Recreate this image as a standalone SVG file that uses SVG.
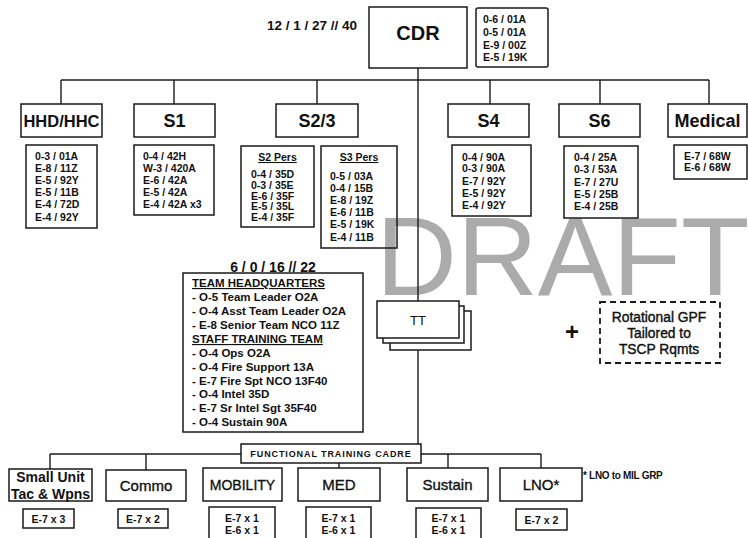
<svg xmlns="http://www.w3.org/2000/svg" width="748" height="538" viewBox="0 0 748 538">
<style>
.bx{fill:#fff;stroke:#1a1a1a;stroke-width:1.5}
.bxn{fill:none;stroke:#1a1a1a;stroke-width:1.5}
.dash{fill:#fff;stroke:#1a1a1a;stroke-width:1.8;stroke-dasharray:6 4}
.ln{stroke:#1a1a1a;stroke-width:1.4;fill:none}
text{font-family:"Liberation Sans",Arial,sans-serif;fill:#111}
.lst{font-size:10.5px;font-weight:bold}
.hd{font-size:18px;font-weight:bold;text-anchor:middle}
.bt{font-size:15px;text-anchor:middle;stroke:#111;stroke-width:0.35}
.gp{font-size:13.8px;text-anchor:middle;stroke:#111;stroke-width:0.4}
.st{font-size:10.5px;font-weight:bold;text-anchor:middle}
.mid{font-size:11.5px;font-weight:bold}
.u{text-decoration:underline}
.wm{font-size:112px;fill:#ababab}
</style>
<g id="watermark"><text class="wm" x="376" y="295">DRAFT</text></g>
<g id="connectors">
<line class="ln" x1="61" y1="80" x2="709" y2="80"/>
<line class="ln" x1="61" y1="80" x2="61" y2="104"/>
<line class="ln" x1="174" y1="80" x2="174" y2="104"/>
<line class="ln" x1="317" y1="80" x2="317" y2="104"/>
<line class="ln" x1="490" y1="80" x2="490" y2="104"/>
<line class="ln" x1="600" y1="80" x2="600" y2="104"/>
<line class="ln" x1="709" y1="80" x2="709" y2="104"/>
<line class="ln" x1="418" y1="68" x2="418" y2="301"/>
<line class="ln" x1="418" y1="338" x2="418" y2="444"/>
<line class="ln" x1="50" y1="454" x2="541" y2="454"/>
<line class="ln" x1="50" y1="454" x2="50" y2="469"/>
<line class="ln" x1="146" y1="454" x2="146" y2="470"/>
<line class="ln" x1="339" y1="463" x2="339" y2="468"/>
<line class="ln" x1="448" y1="454" x2="448" y2="468"/>
<line class="ln" x1="541" y1="454" x2="541" y2="468"/>
</g>
<g id="cdr">
<text x="267" y="30" style="font-size:13.5px;font-weight:bold">12 / 1 / 27 // 40</text>
<rect class="bx" x="369" y="7" width="98" height="61"/>
<text x="418" y="40" style="font-size:20px;font-weight:bold;text-anchor:middle">CDR</text>
</g>
<g id="cdr-staff">
<rect class="bx" x="476" y="8" width="72" height="59" rx="2"/>
<text class="lst" x="483" y="23">0-6 / 01A</text>
<text class="lst" x="483" y="36">0-5 / 01A</text>
<text class="lst" x="483" y="49">E-9 / 00Z</text>
<text class="lst" x="483" y="61">E-5 / 19K</text>
</g>
<g id="hhd">
<rect class="bx" x="21" y="104" width="81" height="33"/>
<text class="hd" x="61.5" y="127" style="font-size:16.5px">HHD/HHC</text>
<rect class="bxn" x="26" y="145" width="71" height="83"/>
<text class="lst" x="35" y="160">0-3 / 01A</text>
<text class="lst" x="35" y="172">E-8 / 11Z</text>
<text class="lst" x="35" y="184">E-5 / 92Y</text>
<text class="lst" x="35" y="196">E-5 / 11B</text>
<text class="lst" x="35" y="208">E-4 / 72D</text>
<text class="lst" x="35" y="221">E-4 / 92Y</text>
</g>
<g id="s1">
<rect class="bx" x="134" y="104" width="81" height="33"/>
<text class="hd" x="174.5" y="127">S1</text>
<rect class="bxn" x="134" y="145" width="80" height="70"/>
<text class="lst" x="143" y="160">0-4 / 42H</text>
<text class="lst" x="143" y="172">W-3 / 420A</text>
<text class="lst" x="143" y="184">E-6 / 42A</text>
<text class="lst" x="143" y="196">E-5 / 42A</text>
<text class="lst" x="143" y="208">E-4 / 42A x3</text>
</g>
<g id="s23">
<rect class="bx" x="276" y="104" width="82" height="33"/>
<text class="hd" x="317" y="127">S2/3</text>
</g>
<g id="s2pers">
<rect class="bxn" x="241" y="146" width="73" height="81"/>
<text class="lst u" x="277.5" y="161" style="text-anchor:middle">S2 Pers</text>
<text class="lst" x="251" y="178">0-4 / 35D</text>
<text class="lst" x="251" y="189">0-3 / 35E</text>
<text class="lst" x="251" y="200">E-6 / 35F</text>
<text class="lst" x="251" y="210">E-5  / 35L</text>
<text class="lst" x="251" y="221">E-4  / 35F</text>
</g>
<g id="s3pers">
<rect class="bxn" x="321" y="146" width="76" height="102"/>
<text class="lst u" x="359" y="161" style="text-anchor:middle">S3 Pers</text>
<text class="lst" x="330" y="180">0-5 / 03A</text>
<text class="lst" x="330" y="192">0-4 / 15B</text>
<text class="lst" x="330" y="204">E-8 / 19Z</text>
<text class="lst" x="330" y="216">E-6 / 11B</text>
<text class="lst" x="330" y="228">E-5 / 19K</text>
<text class="lst" x="330" y="241">E-4 / 11B</text>
</g>
<g id="s4">
<rect class="bx" x="448" y="104" width="81" height="33"/>
<text class="hd" x="488.5" y="127">S4</text>
<rect class="bxn" x="452" y="145" width="79" height="71"/>
<text class="lst" x="462" y="161">0-4 / 90A</text>
<text class="lst" x="462" y="172">0-3 / 90A</text>
<text class="lst" x="462" y="185">E-7 / 92Y</text>
<text class="lst" x="462" y="197">E-5 / 92Y</text>
<text class="lst" x="462" y="209">E-4 / 92Y</text>
</g>
<g id="s6">
<rect class="bx" x="559" y="104" width="81" height="33"/>
<text class="hd" x="599.5" y="127">S6</text>
<rect class="bxn" x="564" y="146" width="74" height="72"/>
<text class="lst" x="574" y="161">0-4 / 25A</text>
<text class="lst" x="574" y="173">0-3 / 53A</text>
<text class="lst" x="574" y="186">E-7 / 27U</text>
<text class="lst" x="574" y="198">E-5 / 25B</text>
<text class="lst" x="574" y="210">E-4 / 25B</text>
</g>
<g id="medical">
<rect class="bx" x="668" y="104" width="79" height="33"/>
<text class="hd" x="707.5" y="127">Medical</text>
<rect class="bxn" x="674" y="145" width="73" height="34"/>
<text class="lst" x="684" y="160">E-7 / 68W</text>
<text class="lst" x="684" y="171">E-6 / 68W</text>
</g>
<g id="team-box">
<text x="273" y="272" style="font-size:14px;font-weight:bold;text-anchor:middle">6 / 0 / 16 // 22</text>
<rect class="bx" x="183" y="273" width="180" height="159"/>
<text class="mid u" x="192" y="287">TEAM HEADQUARTERS</text>
<text class="mid" x="192" y="301">- O-5 Team Leader O2A</text>
<text class="mid" x="192" y="315">- O-4 Asst Team Leader O2A</text>
<text class="mid" x="192" y="329">- E-8 Senior Team NCO 11Z</text>
<text class="mid u" x="192" y="343">STAFF TRAINING TEAM</text>
<text class="mid" x="192" y="357">- O-4 Ops O2A</text>
<text class="mid" x="192" y="371">- O-4 Fire Support 13A</text>
<text class="mid" x="192" y="385">- E-7 Fire Spt NCO 13F40</text>
<text class="mid" x="192" y="398">- O-4 Intel 35D</text>
<text class="mid" x="192" y="412">- E-7 Sr Intel Sgt 35F40</text>
<text class="mid" x="192" y="426">- O-4 Sustain 90A</text>
</g>
<g id="tt">
<rect class="bx" x="390" y="311" width="81" height="39"/>
<rect class="bx" x="383" y="306" width="81" height="37"/>
<rect class="bx" x="377" y="301" width="82" height="37"/>
<text x="418" y="324.5" style="font-size:13px;text-anchor:middle">TT</text>
</g>
<g id="plus"><text x="572" y="340" style="font-size:24px;font-weight:bold;text-anchor:middle">+</text></g>
<g id="gpf">
<rect class="dash" x="600" y="302" width="120" height="61"/>
<text class="gp" x="659" y="322">Rotational GPF</text>
<text class="gp" x="659" y="338">Tailored to</text>
<text class="gp" x="659" y="354">TSCP Rqmts</text>
</g>
<g id="ftc">
<rect class="bx" x="241" y="444" width="180" height="19"/>
<text x="331" y="457" style="font-size:9px;font-weight:bold;letter-spacing:0.9px;text-anchor:middle">FUNCTIONAL TRAINING CADRE</text>
</g>
<g id="small-unit">
<rect class="bx" x="9" y="469" width="83" height="32"/>
<text x="50.5" y="482" style="font-size:14px;font-weight:bold;text-anchor:middle">Small Unit</text>
<text x="50.5" y="499" style="font-size:14px;font-weight:bold;text-anchor:middle">Tac &amp; Wpns</text>
<rect class="bx" x="23" y="509" width="51" height="19"/>
<text class="st" x="48.5" y="523">E-7 x 3</text>
</g>
<g id="commo">
<rect class="bx" x="106" y="470" width="80" height="31"/>
<text class="bt" x="146" y="491">Commo</text>
<rect class="bx" x="118" y="509" width="50" height="19"/>
<text class="st" x="143" y="523">E-7 x 2</text>
</g>
<g id="mobility">
<rect class="bx" x="203" y="468" width="79" height="33"/>
<text class="bt" x="242.5" y="490" style="font-size:14px">MOBILITY</text>
<rect class="bx" x="209" y="507" width="66" height="34"/>
<text class="st" x="242" y="522">E-7 x 1</text>
<text class="st" x="242" y="534">E-6 x 1</text>
</g>
<g id="med">
<rect class="bx" x="298" y="468" width="82" height="33"/>
<text class="bt" x="339" y="490">MED</text>
<rect class="bx" x="306" y="507" width="65" height="34"/>
<text class="st" x="338.5" y="522">E-7 x 1</text>
<text class="st" x="338.5" y="534">E-6 x 1</text>
</g>
<g id="sustain">
<rect class="bx" x="407" y="468" width="81" height="33"/>
<text class="bt" x="447.5" y="490">Sustain</text>
<rect class="bx" x="416" y="508" width="65" height="33"/>
<text class="st" x="448.5" y="522">E-7 x 1</text>
<text class="st" x="448.5" y="534">E-6 x 1</text>
</g>
<g id="lno">
<rect class="bx" x="500" y="468" width="82" height="33"/>
<text class="bt" x="541" y="490">LNO*</text>
<rect class="bx" x="516" y="509" width="51" height="21"/>
<text class="st" x="541.5" y="523.5">E-7 x 2</text>
<text x="583" y="478.5" style="font-size:10px;font-weight:bold;letter-spacing:-0.3px">* LNO to MIL GRP</text>
</g>
</svg>
